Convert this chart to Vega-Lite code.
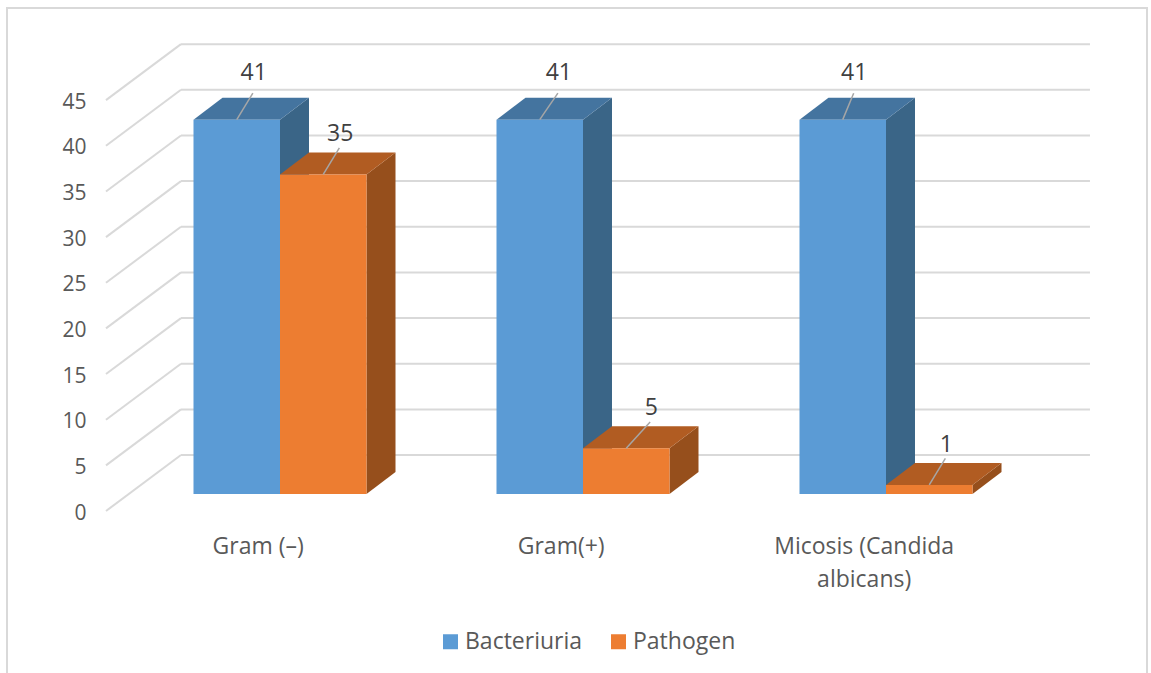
{"$schema":"https://vega.github.io/schema/vega-lite/v6.json","width":1140,"height":667,"padding":{"left":7,"top":8,"right":4,"bottom":0},"autosize":"none","background":"white","config":{"view":{"stroke":"#d9d9d9","strokeWidth":2},"font":"Open Sans"},"datasets":{"bars":[{"category":"Gram (–)","series":"Bacteriuria","value":41},{"category":"Gram (–)","series":"Pathogen","value":35},{"category":"Gram(+)","series":"Bacteriuria","value":41},{"category":"Gram(+)","series":"Pathogen","value":5},{"category":"Micosis (Candida albicans)","series":"Bacteriuria","value":41},{"category":"Micosis (Candida albicans)","series":"Pathogen","value":1}],"levels":[{"level":0},{"level":5},{"level":10},{"level":15},{"level":20},{"level":25},{"level":30},{"level":35},{"level":40},{"level":45}]},"data":{"name":"bars"},"transform":[{"calculate":"indexof(['Gram (–)','Gram(+)','Micosis (Candida albicans)'],datum.category)","as":"g"},{"calculate":"datum.g+(datum.series==='Bacteriuria'?-0.2855:0)","as":"x0"},{"calculate":"datum.x0+0.2855","as":"x1"},{"calculate":"datum.value+1.862","as":"yt"},{"calculate":"datum.category+'/'+datum.series","as":"key"},{"calculate":"datum.value===5?0.083:(datum.value===41?[0.056,0.063,0.038][datum.g]:0.056)","as":"shift"}],"layer":[{"data":{"name":"levels"},"transform":[{"calculate":"-0.5743","as":"a"},{"calculate":"-0.3268","as":"b"},{"calculate":"datum.level+6.13","as":"yb"}],"mark":{"type":"rule","color":"#d9d9d9","strokeWidth":2},"encoding":{"x":{"field":"a","type":"quantitative","scale":{"domain":[-0.901,2.8614],"nice":false,"zero":false},"axis":null},"x2":{"field":"b"},"y":{"field":"level","type":"quantitative","scale":{"domain":[-17.96,55.09],"nice":false,"zero":false},"axis":{"title":null,"values":[0,5,10,15,20,25,30,35,40,45],"domain":false,"ticks":false,"grid":false,"offset":-79,"labelPadding":0,"labelOffset":2,"labelFont":"Open Sans","labelFontSize":21,"labelColor":"#595959"}},"y2":{"field":"yb"}}},{"data":{"name":"levels"},"transform":[{"calculate":"-0.3268","as":"a"},{"calculate":"2.6732","as":"b"},{"calculate":"datum.level+6.13","as":"yb"}],"mark":{"type":"rule","color":"#d9d9d9","strokeWidth":2},"encoding":{"x":{"field":"a","type":"quantitative"},"x2":{"field":"b"},"y":{"field":"yb","type":"quantitative"}}},{"transform":[{"calculate":"[0,1]","as":"d"},{"flatten":["d"]},{"calculate":"datum.x1+datum.d*0.0957","as":"sx"},{"calculate":"datum.yt+datum.d*2.41","as":"st"},{"calculate":"1.862+datum.d*2.41","as":"sb"}],"mark":{"type":"area","orient":"vertical"},"encoding":{"x":{"field":"sx","type":"quantitative"},"y":{"field":"st","type":"quantitative"},"y2":{"field":"sb"},"detail":{"field":"key"},"color":{"condition":{"test":"datum.series==='Bacteriuria'","value":"#3a6587"},"value":"#964f1c"}}},{"transform":[{"calculate":"[0,1]","as":"d"},{"flatten":["d"]},{"calculate":"datum.x0+datum.d*0.0957","as":"ta"},{"calculate":"datum.x1+datum.d*0.0957","as":"tb"},{"calculate":"datum.yt+datum.d*2.41","as":"ty"}],"mark":{"type":"area","orient":"horizontal"},"encoding":{"y":{"field":"ty","type":"quantitative"},"x":{"field":"ta","type":"quantitative"},"x2":{"field":"tb"},"detail":{"field":"key"},"color":{"condition":{"test":"datum.series==='Bacteriuria'","value":"#44749f"},"value":"#b15c22"}}},{"transform":[{"calculate":"1.862","as":"yb"}],"mark":{"type":"rect"},"encoding":{"x":{"field":"x0","type":"quantitative"},"x2":{"field":"x1"},"y":{"field":"yt","type":"quantitative"},"y2":{"field":"yb"},"color":{"field":"series","type":"nominal","scale":{"domain":["Bacteriuria","Pathogen"],"range":["#5b9bd5","#ed7d31"]},"legend":{"orient":"none","direction":"horizontal","title":null,"legendX":432,"legendY":622,"padding":0,"symbolType":"square","symbolSize":225,"symbolStrokeWidth":0,"labelFont":"Open Sans","labelFontSize":23,"labelColor":"#595959","columnPadding":24,"labelOffset":3}}}},{"transform":[{"calculate":"(datum.x0+datum.x1)/2","as":"la"},{"calculate":"datum.la+datum.shift*0.95","as":"lb"},{"calculate":"datum.yt+2.9","as":"ly"}],"mark":{"type":"rule","color":"#a6a6a6","strokeWidth":1.5},"encoding":{"x":{"field":"la","type":"quantitative"},"x2":{"field":"lb"},"y":{"field":"yt","type":"quantitative"},"y2":{"field":"ly"}}},{"transform":[{"calculate":"(datum.x0+datum.x1)/2+datum.shift","as":"tx"},{"calculate":"datum.yt+(datum.value===41?5.1:4.4)","as":"ty"}],"mark":{"type":"text","font":"Open Sans","fontSize":23,"color":"#404040","baseline":"middle","align":"center"},"encoding":{"x":{"field":"tx","type":"quantitative"},"y":{"field":"ty","type":"quantitative"},"text":{"field":"value","type":"quantitative"}}},{"transform":[{"filter":"datum.series==='Bacteriuria'"},{"calculate":"datum.g-0.072","as":"cx"},{"calculate":"-4.71","as":"cy"},{"calculate":"replace(datum.category,'Candida ','Candida\\n')","as":"lab"}],"mark":{"type":"text","font":"Open Sans","fontSize":23,"color":"#595959","baseline":"alphabetic","align":"center","lineBreak":"\n","lineHeight":33},"encoding":{"x":{"field":"cx","type":"quantitative"},"y":{"field":"cy","type":"quantitative"},"text":{"field":"lab","type":"nominal"}}}]}
